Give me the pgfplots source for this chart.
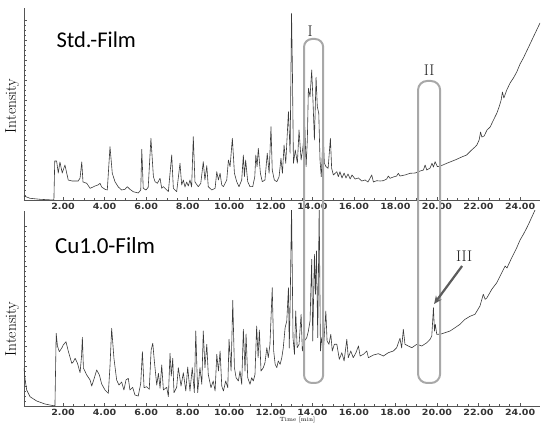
\documentclass[border=0pt]{standalone}
\usepackage{fontspec}
\usepackage{pgfplots}
\pgfplotsset{compat=1.18}
\usepackage{graphicx}
\usetikzlibrary{arrows.meta}
\newfontfamily\carlito{Carlito}
\newfontfamily\tickfont{DejaVu Sans}
\definecolor{trace}{HTML}{3A3A3A}
\definecolor{boxgray}{HTML}{A8A8A8}
\definecolor{axisgray}{HTML}{555555}
\definecolor{arrowgray}{HTML}{5C5C5C}

\pgfplotsset{
 chrom/.style={
  scale only axis, width=516pt,
  xmin=0.12, xmax=24.96, ymin=0,
  axis x line=bottom, axis y line=left,
  axis line style={-, axisgray, line width=0.6pt},
  xtick={2,4,...,24}, minor x tick num=3,
  ytick={0,20,...,180}, minor y tick num=3, yticklabels={},
  tick style={axisgray, line width=0.5pt},
  major tick length=3pt, minor tick length=2pt,
  tick align=inside,
  xticklabel={\scalebox{1.12}[1]{\tickfont\bfseries\fontsize{8.5}{8.5}\selectfont\pgfmathprintnumber[fixed,fixed zerofill,precision=2,assume math mode=true]{\tick}}},
  xticklabel style={text=black!80, inner sep=0pt, yshift=-2.5pt},
  clip=true,
  ylabel={\fontsize{15.5}{16}\selectfont Intensity},
 },
 trc/.style={trace, line width=0.6pt, mark=none, line join=round}
}

\begin{document}
\begin{tikzpicture}[x=1pt,y=1pt]
\useasboundingbox (0,0) rectangle (544,423);

% ---------------- top panel: Std.-Film ----------------
\begin{axis}[chrom, at={(24pt,223pt)}, anchor=south west, height=192pt, ymax=192,
  ylabel style={at={(axis description cs:-0.023,0.49)}, anchor=center}]
\addplot[trc] coordinates {
(0.12,4)(0.41,1.7)(0.89,0.7)(1.52,0)(1.56,0.5)(1.60,39)(1.69,39)(1.77,27)(1.85,38)(1.96,27)(2.09,35)(2.25,20)(2.43,19)(2.73,19)(2.82,22)(2.90,38)(2.96,18)(3.14,16.7)(3.30,11.7)(3.39,12.5)(3.54,14)(3.68,15)(3.78,16.7)(3.86,13)(4.02,10.7)(4.13,10)(4.26,53.3)(4.37,26.7)(4.50,18.3)(4.66,13)(4.82,10)(4.98,10.7)(5.09,13.3)(5.22,10.7)(5.38,8.3)(5.62,7)(5.74,10)(5.79,50.7)(5.86,11.7)(5.99,10)(6.10,12.7)(6.23,61.7)(6.35,23.3)(6.43,18.3)(6.54,16.7)(6.67,21.7)(6.75,11.7)(6.83,13.3)(6.99,10)(7.07,8.3)(7.23,45)(7.31,11.7)(7.47,8.3)(7.63,36.7)(7.71,15)(7.79,20)(7.87,13)(7.95,18)(8.03,14)(8.11,20)(8.19,13)(8.27,63.3)(8.35,18)(8.51,13.3)(8.63,16.7)(8.75,38.3)(8.83,20)(8.92,34.3)(8.99,13.3)(9.16,10)(9.32,11.7)(9.40,28.3)(9.48,20)(9.56,26.7)(9.64,15)(9.72,13.3)(9.80,16.7)(9.88,20)(9.96,40)(10.04,33.3)(10.15,61.7)(10.25,26.7)(10.36,18.3)(10.47,13.3)(10.60,20)(10.68,45)(10.73,23.3)(10.79,40)(10.89,18.3)(11.00,13.3)(11.13,13.3)(11.23,23.3)(11.28,45)(11.34,33.3)(11.40,51.7)(11.50,26.7)(11.59,18.3)(11.72,20)(11.83,46.7)(11.92,26.7)(12.01,73.3)(12.07,30)(12.17,20)(12.29,18.3)(12.40,23.3)(12.49,41.7)(12.56,26.7)(12.64,55)(12.72,36.7)(12.85,88.3)(12.93,46.7)(13.00,186.7)(13.04,131.7)(13.09,36.7)(13.18,50)(13.28,36.7)(13.36,70)(13.46,40)(13.55,53.3)(13.64,73)(13.70,33.3)(13.76,60)(13.81,111.7)(13.89,103.3)(13.97,130)(14.03,100)(14.10,60)(14.18,122.7)(14.24,93.3)(14.31,86.7)(14.37,40)(14.43,23.3)(14.52,67)(14.58,36.7)(14.66,33.3)(14.76,31.7)(14.87,61.7)(14.93,31.7)(15.01,25)(15.18,28.3)(15.25,23.3)(15.33,28.3)(15.43,22)(15.53,27)(15.62,22)(15.72,26)(15.82,21)(15.91,25)(16.06,21)(16.22,22)(16.38,19)(16.54,20)(16.68,18)(16.86,25)(16.94,18)(17.10,19.3)(17.26,19)(17.42,19.3)(17.58,21)(17.66,24)(17.74,21.7)(17.90,23)(18.06,24)(18.14,26.7)(18.22,24)(18.46,25)(18.71,26.7)(18.95,27)(19.19,29)(19.35,30)(19.43,35)(19.51,30)(19.67,32)(19.76,36.7)(19.83,33)(19.91,38.3)(20.02,33.3)(20.23,34.5)(20.47,36.7)(20.71,38.7)(20.95,40.7)(21.19,43)(21.43,45)(21.67,50)(21.83,53)(21.92,55)(22.03,60)(22.10,68)(22.16,63)(22.27,64)(22.41,70)(22.56,73)(22.72,80)(22.88,86.7)(22.99,93)(23.09,100)(23.15,108)(23.22,102)(23.36,110)(23.52,117)(23.68,122)(23.84,128)(24.00,136)(24.16,142)(24.32,149)(24.48,156)(24.64,163)(24.80,170)(24.96,177)
};
\coordinate (IT) at (axis cs:13.60,161);
\coordinate (IIT) at (axis cs:19.09,119);
\node[font=\fontsize{15.5}{15.5}\selectfont, text=black!85] at (axis cs:13.89,169) {I};
\node[font=\fontsize{15.5}{15.5}\selectfont, text=black!85] at (axis cs:19.62,130) {II};
\node[font=\carlito\fontsize{22.5}{23}\selectfont] at (axis description cs:0.14,0.833) {Std.-Film};
\end{axis}

% ---------------- bottom panel: Cu1.0-Film ----------------
\begin{axis}[chrom, at={(24pt,17pt)}, anchor=south west, height=195pt, ymax=195,
  ylabel style={at={(axis description cs:-0.023,0.395)}, anchor=center},
  xlabel={\fontsize{6}{6}\selectfont Time [min]},
  xlabel style={at={(axis description cs:0.53,0)}, anchor=north, yshift=-11pt, inner sep=0pt}]
\addplot[trc] coordinates {
(0.12,38)(0.17,27)(0.25,16)(0.41,9.3)(0.73,5)(1.13,2)(1.53,0.3)(1.61,0.3)(1.67,72.7)(1.73,60)(1.82,54.3)(1.94,58)(2.01,61)(2.14,64.3)(2.25,55)(2.42,42.7)(2.49,44)(2.58,47.7)(2.69,43)(2.82,33.3)(2.89,50)(2.93,68.7)(2.98,38)(3.14,31)(3.30,26)(3.38,20)(3.49,27)(3.62,36)(3.75,31)(3.86,22)(4.02,16)(4.18,12.7)(4.26,40)(4.34,77.7)(4.45,47.7)(4.58,26)(4.69,21)(4.82,24)(4.93,16)(5.03,26)(5.14,27.7)(5.22,16)(5.35,18.7)(5.46,11)(5.62,10)(5.74,22.7)(5.82,54.3)(5.90,18.3)(6.03,19.3)(6.15,16.7)(6.24,56)(6.32,62.7)(6.39,46)(6.51,21)(6.59,32.7)(6.67,17.7)(6.75,41)(6.83,16)(6.99,18.7)(7.07,9.3)(7.15,52.7)(7.21,30)(7.28,47.7)(7.34,13.3)(7.47,18.7)(7.55,38.3)(7.68,20)(7.79,33.3)(7.91,15)(8.00,39)(8.11,15)(8.22,38.3)(8.32,13.3)(8.39,75)(8.48,13.3)(8.59,38.3)(8.68,21.7)(8.75,75)(8.83,38.3)(8.92,61.7)(8.99,31.7)(9.12,18.3)(9.23,25)(9.32,15)(9.40,51.7)(9.48,35)(9.56,55)(9.64,20)(9.72,15)(9.83,25)(9.93,18.3)(9.99,66.7)(10.09,35)(10.17,105.7)(10.25,38.3)(10.33,28.3)(10.44,25)(10.52,35)(10.60,21.7)(10.68,76.7)(10.76,35)(10.81,72)(10.89,28.3)(11.00,21.7)(11.08,28.3)(11.16,25)(11.24,31.7)(11.32,80)(11.39,48.3)(11.45,76)(11.53,35)(11.64,38.3)(11.72,43.3)(11.81,58.3)(11.88,48.3)(11.96,61.7)(12.07,118.3)(12.14,55)(12.21,41.7)(12.29,38.3)(12.36,45)(12.45,41.7)(12.53,48.3)(12.60,58)(12.69,78.3)(12.77,85)(12.85,118.3)(12.89,58)(12.94,111.7)(13.00,200)(13.07,68.3)(13.14,51.7)(13.20,95)(13.27,58.3)(13.36,61.7)(13.46,91.7)(13.52,55)(13.62,65)(13.73,68.3)(13.81,75)(13.89,85)(13.97,146.7)(14.02,65)(14.10,151.7)(14.15,111.7)(14.20,155)(14.26,68.3)(14.33,200)(14.39,55)(14.45,68.3)(14.53,55)(14.65,95)(14.71,65)(14.80,61.7)(14.89,71.7)(14.96,55)(15.06,61.7)(15.18,61.7)(15.30,46.7)(15.42,53.3)(15.53,45)(15.66,66.7)(15.73,48.3)(15.85,55)(15.97,48.3)(16.10,53.3)(16.22,60)(16.30,50)(16.46,51.7)(16.62,55)(16.70,48.3)(16.94,51)(17.18,52.3)(17.42,50)(17.66,53.3)(17.90,55)(18.06,58.3)(18.22,67.7)(18.30,58)(18.38,76.7)(18.46,61.7)(18.62,60)(18.79,58.3)(19.03,61.7)(19.27,60)(19.51,63.3)(19.67,66.7)(19.75,70)(19.83,98.3)(19.88,75)(19.92,81.7)(19.99,71.7)(20.15,71.7)(20.39,73.3)(20.63,75)(20.87,78.3)(21.11,81.7)(21.35,86.7)(21.59,89.7)(21.83,91.7)(22.07,100)(22.23,111.7)(22.32,106.7)(22.40,108)(22.64,116.7)(22.88,123.3)(23.04,130)(23.28,140)(23.37,138)(23.60,148.3)(23.84,158.3)(24.00,166)(24.16,171.7)(24.32,178)(24.48,185)(24.72,196)(24.96,205)
};
\coordinate (IB) at (axis cs:14.52,23);
\coordinate (IIB) at (axis cs:20.15,23);
\coordinate (A1) at (axis cs:21.21,140);
\coordinate (A2) at (axis cs:19.86,102);
\node[font=\fontsize{15.5}{15.5}\selectfont, text=black!85] at (axis cs:21.31,150) {III};
\node[font=\carlito\fontsize{23}{24}\selectfont] at (axis description cs:0.157,0.82) {Cu1.0-Film};
\end{axis}

% ---------------- annotations spanning both panels ----------------
\draw[boxgray, line width=2pt, rounded corners=8pt] (IT) rectangle (IB);
\draw[boxgray, line width=2pt, rounded corners=9pt] (IIT) rectangle (IIB);
\draw[arrowgray, line width=2.2pt, -{Stealth[length=8pt,width=7pt]}] (A1) -- (A2);
\end{tikzpicture}
\end{document}
